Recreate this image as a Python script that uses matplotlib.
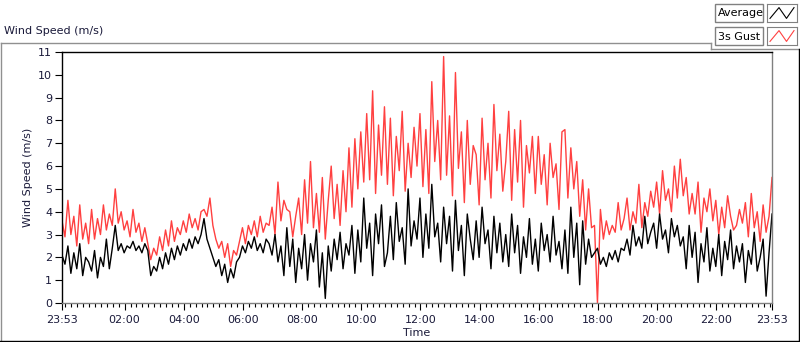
import matplotlib
matplotlib.use("Agg")
import matplotlib.pyplot as plt
from matplotlib.lines import Line2D
from matplotlib.patches import Rectangle

# wind speed, one value every 6 minutes starting at 23:53
start_min = -7          # 23:53 of the previous day, in minutes from midnight
step_min = 6

average = [
    2.1, 1.7, 2.5, 1.3, 2.2, 1.5, 2.6, 1.2, 2.0, 1.8,
    1.4, 2.3, 1.1, 2.0, 1.6, 2.8, 1.5, 2.4, 3.4, 2.3,
    2.6, 2.2, 2.5, 2.4, 2.7, 2.3, 2.5, 2.2, 2.6, 2.3,
    1.2, 1.6, 1.4, 2.0, 1.5, 2.2, 1.7, 2.4, 1.9, 2.5,
    2.1, 2.6, 2.3, 2.8, 2.4, 2.9, 2.6, 3.0, 3.7, 2.8,
    2.4, 2.0, 1.6, 1.9, 1.2, 1.7, 0.9, 1.5, 1.1, 1.8,
    2.0, 2.5, 2.2, 2.7, 2.4, 2.9, 2.3, 2.6, 2.2, 2.8,
    2.6, 2.1, 3.0, 1.8, 2.5, 1.2, 3.3, 1.6, 2.8, 0.9,
    2.4, 1.5, 3.0, 1.0, 2.6, 1.8, 3.2, 0.7, 2.2, 0.2,
    2.5, 1.4, 2.8, 1.9, 3.1, 1.5, 2.6, 2.1, 3.4, 1.3,
    3.2, 1.8, 4.6, 2.4, 3.5, 1.2, 3.9, 2.6, 4.3, 1.6,
    2.2, 3.8, 1.9, 4.4, 2.7, 3.3, 1.7, 5.0, 2.5, 3.6,
    2.8, 4.6, 2.0, 3.9, 2.4, 5.2, 2.9, 3.5, 1.8, 4.2,
    2.6, 3.8, 1.4, 4.5, 2.3, 3.4, 1.2, 3.9, 2.8, 1.9,
    3.6, 2.0, 4.2, 2.6, 3.2, 1.5, 3.8, 2.2, 3.5, 1.8,
    3.0, 1.6, 3.9, 2.2, 3.4, 1.3, 2.9, 2.0, 3.7, 1.7,
    2.8, 1.4, 3.5, 2.3, 3.0, 1.8, 3.8, 2.1, 2.7, 1.5,
    3.2, 1.3, 4.2, 2.0, 3.5, 0.8, 3.6, 1.7, 2.8, 2.0,
    2.2, 2.4, 1.7, 2.0, 1.6, 2.2, 1.9, 2.3, 1.8, 2.4,
    2.3, 2.8, 2.1, 3.4, 2.5, 2.9, 2.4, 3.8, 2.6, 3.1,
    3.5, 2.4, 3.9, 2.8, 3.2, 2.2, 3.7, 2.9, 3.4, 2.5,
    2.9, 1.5, 3.4, 2.0, 3.1, 0.9, 2.6, 1.8, 3.3, 1.4,
    2.4, 1.6, 3.0, 1.2, 2.7, 1.9, 3.2, 1.5, 2.5, 1.8,
    2.6, 0.9, 2.3, 1.7, 3.1, 1.4, 2.0, 2.8, 0.3, 2.2,
    3.9,
]

gust = [
    3.6, 2.9, 4.5, 3.0, 3.8, 2.5, 4.3, 2.8, 3.5, 2.6,
    4.1, 2.8, 3.7, 3.0, 4.3, 3.2, 3.9, 3.4, 5.0, 3.5,
    4.0, 3.2, 3.6, 2.9, 4.1, 3.1, 3.5, 2.7, 3.3, 2.6,
    1.9, 2.4, 2.1, 2.9, 2.3, 3.2, 2.5, 3.6, 2.7, 3.3,
    3.0, 3.6, 3.1, 3.9, 3.3, 3.7, 3.2, 4.0, 4.1, 3.8,
    4.6, 3.4, 2.8, 2.4, 2.7, 2.0, 2.6, 1.6, 2.3, 2.1,
    2.7, 3.3, 2.6, 3.4, 3.0, 3.6, 2.9, 3.8, 3.1, 3.5,
    3.4, 4.2, 3.0, 5.3, 3.6, 4.5, 4.1, 4.0, 2.9, 3.8,
    4.6, 3.0, 5.4, 3.5, 6.2, 3.3, 4.8, 3.1, 5.5, 2.8,
    4.5, 6.0, 3.7, 5.2, 3.4, 5.8, 4.0, 6.8, 4.2, 7.2,
    5.0, 7.5, 5.3, 8.3, 5.4, 9.3, 4.8, 7.8, 5.6, 8.6,
    5.2, 8.1, 4.7, 7.3, 5.8, 8.4, 4.9, 7.0, 5.5, 7.7,
    6.0, 8.3, 5.1, 7.6, 4.8, 9.7, 6.2, 8.0, 5.4, 10.8,
    5.6, 8.2, 4.7, 10.1, 5.9, 7.5, 4.4, 8.0, 5.2, 6.9,
    6.5, 4.3, 8.1, 5.4, 7.0, 4.6, 8.7, 5.8, 7.4, 4.9,
    6.2, 8.4, 4.5, 7.6, 5.3, 8.0, 4.2, 6.9, 5.7, 7.3,
    4.8, 7.3, 5.2, 6.5, 4.3, 7.0, 5.5, 6.1, 4.1, 7.5,
    7.6, 4.6, 6.8, 5.0, 6.2, 3.8, 5.4, 3.2, 5.0, 3.3,
    3.4, 0.0, 4.1, 2.8, 3.6, 3.0, 3.4, 3.1, 4.4, 3.2,
    3.7, 4.6, 3.2, 4.0, 3.5, 5.2, 3.3, 4.4, 3.8, 4.9,
    4.2, 5.3, 3.9, 5.8, 4.5, 5.0, 4.0, 6.0, 4.6, 6.3,
    4.7, 5.5, 3.9, 4.8, 3.9, 5.3, 3.1, 4.6, 4.0, 5.0,
    3.6, 4.5, 3.0, 4.2, 3.3, 4.7, 3.8, 3.2, 3.4, 4.1,
    3.5, 4.4, 2.9, 4.8, 3.3, 4.0, 2.7, 4.3, 3.1, 3.8,
    5.5,
]

time_min = [start_min + step_min * i for i in range(len(average))]

major_ticks = [-7, 120, 240, 360, 480, 600, 720, 840, 960, 1080, 1200, 1320, 1433]
major_labels = ["23:53", "02:00", "04:00", "06:00", "08:00", "10:00", "12:00",
                "14:00", "16:00", "18:00", "20:00", "22:00", "23:53"]
minor_ticks = list(range(0, 1433, 12))

W, H = 800, 342
txt = "#1a1a3a"
plt.rcParams["font.family"] = ["DejaVu Sans"]
plt.rcParams["font.size"] = 8

fig = plt.figure(figsize=(W / 100, H / 100), dpi=100)
ax = fig.add_axes([62 / W, 1 - 303 / H, (772 - 62) / W, (303 - 52) / H])

ax.plot(time_min, gust, color="#ff4040", lw=1.0)
ax.plot(time_min, average, color="black", lw=1.0)

ax.set_xlim(start_min, 1433)
ax.set_ylim(0, 11)
ax.set_yticks(range(0, 12))
ax.set_xticks(major_ticks)
ax.set_xticklabels(major_labels)
ax.set_xticks(minor_ticks, minor=True)
ax.tick_params(axis="both", which="major", length=5, width=0.8, colors="black",
               labelcolor=txt, labelsize=8)
ax.tick_params(axis="x", which="minor", length=3, width=0.8, colors="black")
ax.tick_params(axis="y", pad=2)

ax.spines["top"].set_color("black")
ax.spines["left"].set_color("black")
ax.spines["right"].set_color("#808080")
ax.spines["bottom"].set_color("#808080")
for s in ax.spines.values():
    s.set_linewidth(1)

ax.set_xlabel("Time", color=txt, fontsize=8, labelpad=2)
ax.set_ylabel("Wind Speed (m/s)", color=txt, fontsize=8, labelpad=4)
fig.text(4 / W, 1 - 31 / H, "Wind Speed (m/s)", color=txt, fontsize=8,
         va="center", ha="left")


def px(x, y):
    return x / W, 1 - y / H


def fline(xs, ys, color):
    fx = [x / W for x in xs]
    fy = [1 - y / H for y in ys]
    fig.add_artist(Line2D(fx, fy, color=color, lw=1, transform=fig.transFigure))


# panel border
fline([0.5, 711], [42.5, 42.5], "#909090")
fline([711, 711], [42.5, 49], "#909090")
fline([711, 800], [49, 49], "#909090")
fline([1, 1], [42.5, 341], "#909090")
fline([0, 800], [340.5, 340.5], "black")
fline([799, 799], [49, 341], "black")

# legend
legend_rows = [("Average", "black"), ("3s Gust", "#ff4040")]
for i, (name, col) in enumerate(legend_rows):
    y0 = 4 + i * 23
    x, y = px(715, y0 + 18)
    fig.add_artist(Rectangle((x, y), 48 / W, 18 / H, transform=fig.transFigure,
                             facecolor="white", edgecolor="#808080", lw=1))
    fig.text(718 / W, 1 - (y0 + 9.5) / H, name, color="black", fontsize=8,
             va="center", ha="left")
    x, y = px(767, y0 + 18)
    sw = fig.add_axes([x, y, 30 / W, 18 / H])
    sw.set_xlim(0, 1)
    sw.set_ylim(0, 1)
    sw.plot([0.1, 0.4, 0.65, 0.9], [0.2, 0.8, 0.2, 0.8], color=col, lw=0.8)
    sw.set_xticks([])
    sw.set_yticks([])
    for s in sw.spines.values():
        s.set_color("#808080")

fig.savefig("out.png", dpi=100)
